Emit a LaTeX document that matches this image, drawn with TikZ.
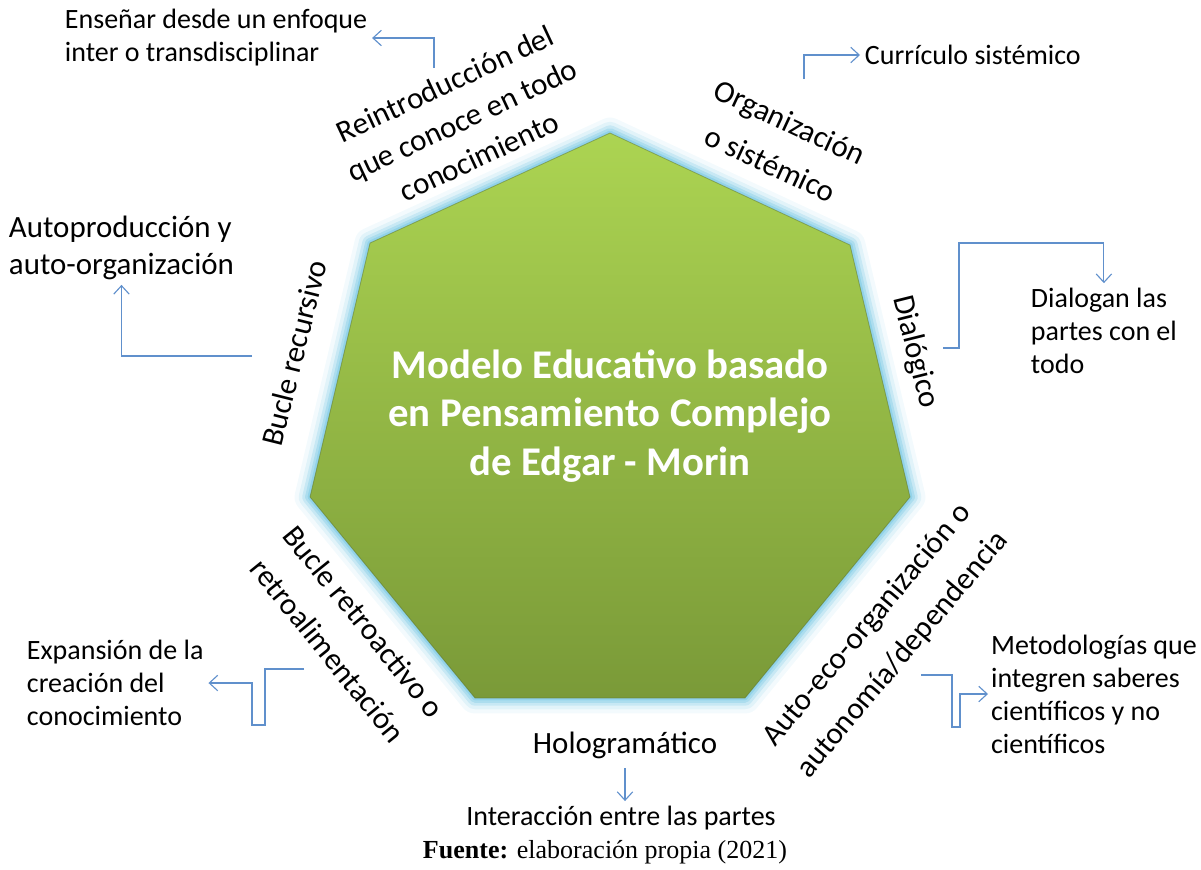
\documentclass[tikz,border=0pt]{standalone}
\usepackage{fontspec}
\setmainfont{Carlito}
\newfontfamily\fuentefont{Liberation Serif}
\usetikzlibrary{arrows.meta}
\usetikzlibrary{calc}
\definecolor{linkblue}{RGB}{96,144,204}
\definecolor{glowblue}{RGB}{140,208,232}
\definecolor{greentop}{RGB}{172,212,82}
\definecolor{greenbot}{RGB}{122,154,56}
\tikzstyle{side} = [align=center, inner sep=0pt, font=\fontsize{22}{30}\selectfont]
\tikzstyle{note} = [align=left, font=\fontsize{19.9}{23.5}\selectfont]
\tikzstyle{link} = [draw=linkblue, line width=0.8pt, ->]
\tikzstyle{title} = [align=center, text=white, font=\bfseries\fontsize{29}{34.5}\selectfont]

\begin{document}
\begin{tikzpicture}[x=0.025cm, y=-0.025cm, >={Straight Barb[length=6pt,width=11pt]}]
    \useasboundingbox (0,0) rectangle (1201,869);

    % heptagon corners
    \coordinate (v1) at (610,133);
    \coordinate (v2) at (850,245);
    \coordinate (v3) at (910,497);
    \coordinate (v4) at (745,698);
    \coordinate (v5) at (475,698);
    \coordinate (v6) at (310,497);
    \coordinate (v7) at (370,243);

    % glow
    \foreach \w/\o in {22/0.1, 16/0.18, 11/0.3, 7/0.45, 3.5/0.8}
        \draw[glowblue, line width=\w pt, opacity=\o, line join=round]
            (v1) -- (v2) -- (v3) -- (v4) -- (v5) -- (v6) -- (v7) -- cycle;
    \shade[top color=greentop, bottom color=greenbot]
        (v1) -- (v2) -- (v3) -- (v4) -- (v5) -- (v6) -- (v7) -- cycle;
    \draw[greenbot!70!black, line width=0.6pt, opacity=0.45, line join=round]
        (v1) -- (v2) -- (v3) -- (v4) -- (v5) -- (v6) -- (v7) -- cycle;

    \node[title] (model) at (610,416) {Modelo Educativo basado\\en Pensamiento Complejo\\de Edgar - Morin};

    % labels along the sides
    \node[side, rotate=25, font=\fontsize{22}{28.5}\selectfont] (reintro) at (462,120) {Reintroducción del\\que conoce en todo\\conocimiento};
    \node[side, rotate=-25, font=\fontsize{22}{33}\selectfont] (organiz) at (780,143) {Organización\\o sistémico};
    \node[side, rotate=76] (bucrec) at (294,353) {Bucle recursivo};
    \node[side, rotate=-76] (dialog) at (915,352) {Dialógico};
    \node[side, rotate=-51, font=\fontsize{22}{33}\selectfont] (bucret) at (346,636) {Bucle retroactivo o\\retroalimentación};
    \node[side, rotate=50, font=\fontsize{22}{33}\selectfont] (autoeco) at (885,640) {Auto-eco-organización o\\autonomía/dependencia};
    \node[side] (holo) at (625,745) {Hologramático};

    % outer notes
    \node[note, anchor=west] (ensenar) at (60,38) {Enseñar desde un enfoque\\inter o transdisciplinar};
    \node[note, anchor=west] (curr) at (860,55) {Currículo sistémico};
    \node[note, anchor=west, font=\fontsize{22}{26.3}\selectfont] (autop) at (4,248) {Autoproducción y\\auto-organización};
    \node[note, anchor=west] (dialogan) at (1026,331) {Dialogan las\\partes con el\\todo};
    \node[note, anchor=west, inner xsep=2pt] (metod) at (988,694) {Metodologías que\\integren saberes\\científicos y no\\científicos};
    \node[note, anchor=west] (expan) at (22,683) {Expansión de la\\creación del\\conocimiento};
    \node[note] (inter) at (621,818) {Interacción entre las partes};
    \node[font=\fuentefont\fontsize{18.5}{20}\selectfont] (fuente) at (605,852) {\textbf{Fuente:} elaboración propia (2021)};

    % connectors
    \coordinate (reintro-out) at (434,68);
    \coordinate (organiz-out) at (804,79);
    \coordinate (bucrec-out) at (252,356);
    \coordinate (dialog-out) at (943,348);
    \coordinate (bucret-out) at (304,669);
    \coordinate (autoeco-out) at (921,675);
    \coordinate (holo-out) at (625,768);

    \draw[link] (reintro-out) |- (ensenar.east);
    \draw[link] (organiz-out) |- (curr.west);
    \draw[link] (bucrec-out) -| (autop.south);
    \draw[link] (dialog-out) -- ++(16,0) -- ++(0,-105) -| (dialogan.north);
    \draw[link] (bucret-out) -- ++(-39,0) -- ++(0,56) -- ++(-13,0) |- (expan.east);
    \draw[link] (autoeco-out) -- ++(31,0) -- ++(0,52) -- ++(8,0) |- (metod.west);
    \draw[link] (holo-out) -- (holo-out |- inter.north);
\end{tikzpicture}
\end{document}
